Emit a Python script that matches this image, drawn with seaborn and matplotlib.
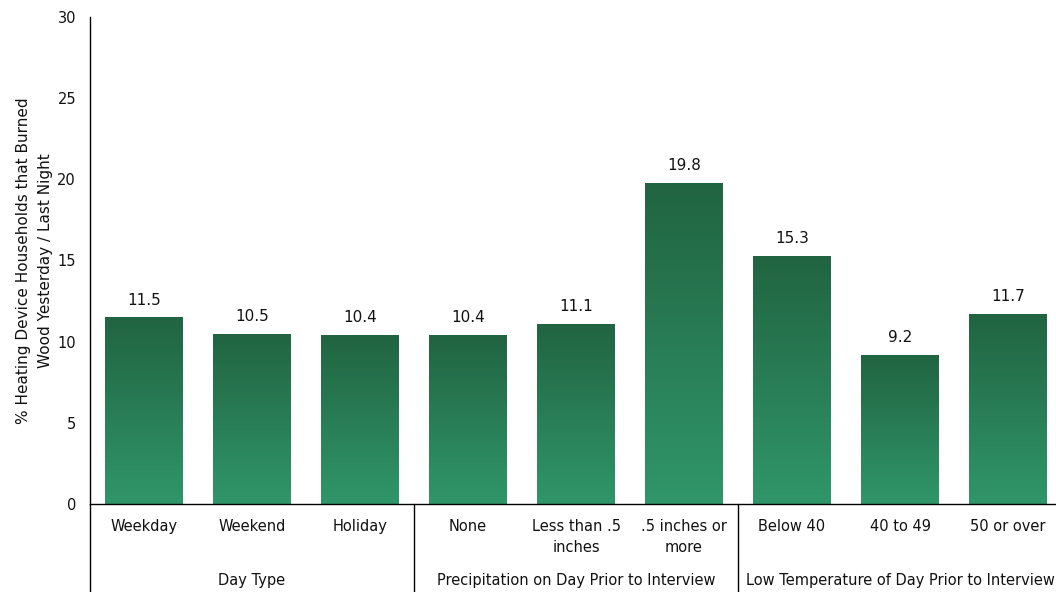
import numpy as np
import pandas as pd
import matplotlib
matplotlib.use("Agg")
import matplotlib.pyplot as plt
import seaborn as sns
from matplotlib.colors import LinearSegmentedColormap

categories = ["Weekday", "Weekend", "Holiday", "None", "Less than .5\ninches",
              ".5 inches or\nmore", "Below 40", "40 to 49", "50 or over"]
values = [11.5, 10.5, 10.4, 10.4, 11.1, 19.8, 15.3, 9.2, 11.7]
groups = ["Day Type", "Precipitation on Day Prior to Interview",
          "Low Temperature of Day Prior to Interview"]
group_sizes = [3, 3, 3]
yticks = [0, 5, 10, 15, 20, 25, 30]

sns.set_style("white")
plt.rcParams['font.family'] = ['DejaVu Sans']

df = pd.DataFrame({"cat": categories, "val": values})

fig = plt.figure(figsize=(10.56, 5.92), dpi=100)
ax = fig.add_axes([90/1056, 1-504/592, 972/1056, 487/592])
sns.barplot(data=df, x="cat", y="val", ax=ax, color="#2a7d52", width=0.72,
            saturation=1)

cmap = LinearSegmentedColormap.from_list("g", ["#30966a", "#216442"])
grad = np.linspace(0, 1, 256).reshape(-1, 1)
for p in ax.patches:
    x0, y0 = p.get_x(), p.get_y()
    w, h = p.get_width(), p.get_height()
    im = ax.imshow(grad, cmap=cmap, origin="lower", aspect="auto",
                   extent=[x0, x0 + w, y0, y0 + h], zorder=p.get_zorder() + 0.1)
    im.set_clip_path(p)
    ax.annotate(f"{h:.1f}", (x0 + w/2, h), xytext=(0, 7), textcoords="offset points",
                ha="center", va="bottom", fontsize=11, color="#111111")

ax.set_xlim(-0.5, len(categories) - 0.5)
ax.set_ylim(0, 30)
ax.set_yticks(yticks)
ax.tick_params(axis="y", labelsize=10.5, length=0, pad=10, labelcolor="#111111")
ax.tick_params(axis="x", labelsize=10.5, length=0, pad=11, labelcolor="#111111")
for lbl in ax.get_xticklabels():
    lbl.set_linespacing(1.5)
ax.set_xlabel("")
ax.set_ylabel("% Heating Device Households that Burned\nWood Yesterday / Last Night",
              fontsize=11, labelpad=3, linespacing=1.6, color="#111111")
for s in ["top", "right"]:
    ax.spines[s].set_visible(False)
for s in ["left", "bottom"]:
    ax.spines[s].set_color("black")
    ax.spines[s].set_linewidth(1)

trans = ax.get_xaxis_transform()
ybot = -(592 - 504) / 487
start = 0
for g, n in zip(groups, group_sizes):
    ax.plot([start - 0.5, start - 0.5], [0, ybot], transform=trans, color="black",
            lw=1, clip_on=False)
    ax.text(start + (n - 1) / 2, -(581 - 504) / 487, g, transform=trans,
            ha="center", va="center", fontsize=10.5, color="#111111")
    start += n

fig.savefig("out.png", dpi=100)
